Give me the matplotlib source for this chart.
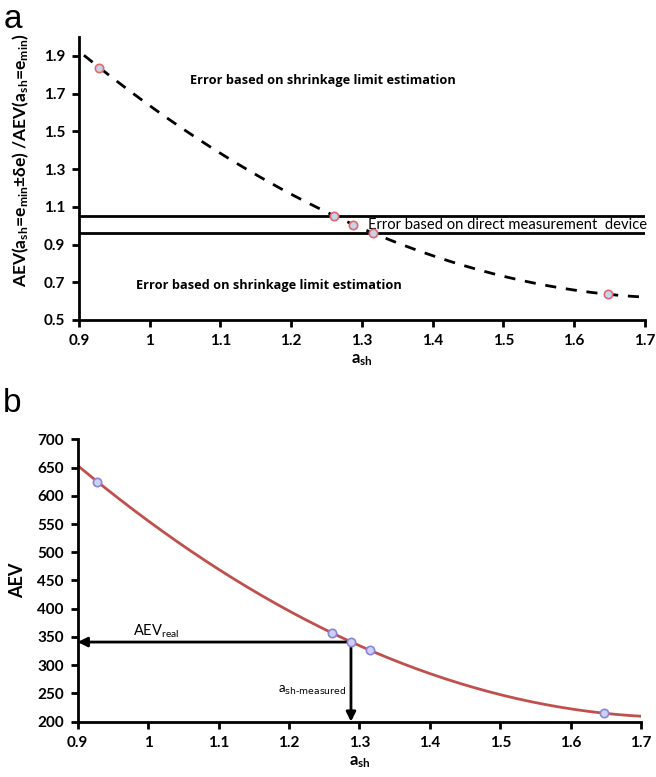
import matplotlib.pyplot as plt
import numpy as np

plt.rcParams['font.family'] = ['Lato', 'DejaVu Sans']
plt.rcParams['mathtext.default'] = 'regular'

# panel a: normalised AEV ratio
a_sh_ratio = [0.929, 1.261, 1.288, 1.315, 1.648]
ratio = [1.837, 1.052, 1.005, 0.962, 0.636]
band_upper = 1.052
band_lower = 0.962

# panel b: AEV vs a_sh
a_sh_aev = [0.928, 1.261, 1.288, 1.315, 1.647]
aev = [625, 357, 341, 327, 215]
a_measured = 1.288
aev_real = 341

xticks = [0.9, 1.0, 1.1, 1.2, 1.3, 1.4, 1.5, 1.6, 1.7]
xtick_labels = ['0.9', '1', '1.1', '1.2', '1.3', '1.4', '1.5', '1.6', '1.7']

fig = plt.figure(figsize=(6.56, 7.77), dpi=100)
ax1 = fig.add_axes([0.1204, 0.5882, 0.8628, 0.3642])
ax2 = fig.add_axes([0.1184, 0.0712, 0.8590, 0.3634])

def style(ax):
    for s in ['top', 'right']:
        ax.spines[s].set_visible(False)
    for s in ['left', 'bottom']:
        ax.spines[s].set_linewidth(2)
    ax.tick_params(width=2, length=5, labelsize=11, direction='out', pad=5)
    for lbl in ax.get_xticklabels() + ax.get_yticklabels():
        lbl.set_fontweight('bold')

# --- a ---
fit1 = np.polyfit(a_sh_ratio, ratio, 2)
xs1 = np.linspace(0.907, 1.7, 200)
ax1.plot(xs1, np.polyval(fit1, xs1), color='black', lw=2, ls=(0, (4, 3.5)))
ax1.axhline(band_upper, color='black', lw=2)
ax1.axhline(band_lower, color='black', lw=2)
ax1.plot(a_sh_ratio, ratio, 'o', ms=6, mfc='#c6d3ee', mec='#e06a6a', mew=1.2, zorder=5)
ax1.set_xlim(0.9, 1.7)
ax1.set_ylim(0.5, 2.0)
ax1.set_xticks(xticks)
ax1.set_xticklabels(xtick_labels)
ax1.set_yticks(np.round(np.arange(0.5, 1.91, 0.2), 1))
style(ax1)
ax1.set_xlabel(r'a$_{sh}$', fontsize=12, fontweight='bold', labelpad=3)
fig.text(21 / 656, 1 - 160 / 777,
         r'AEV(a$_{sh}$=e$_{min}$±δe) /AEV(a$_{sh}$=e$_{min}$)',
         fontsize=12.5, fontweight='bold', rotation=90, ha='center', va='center')
ax1.text(1.057, 1.751, 'Error based on shrinkage limit estimation',
         fontsize=9.2, fontweight='bold', family='Open Sans', va='baseline')
ax1.text(0.981, 0.665, 'Error based on shrinkage limit estimation',
         fontsize=9.2, fontweight='bold', family='Open Sans', va='baseline')
ax1.text(1.309, 0.984, 'Error based on direct measurement  device',
         fontsize=10.6, va='baseline')
fig.text(0.005, 0.995, 'a', fontsize=24, va='top', family='Liberation Sans')

# --- b ---
fit2 = np.polyfit(a_sh_aev, aev, 2)
xs2 = np.linspace(0.9, 1.7, 200)
ax2.plot(xs2, np.polyval(fit2, xs2), color='#c0504d', lw=2)
ax2.plot(a_sh_aev, aev, 'o', ms=6, mfc='#cdd0f2', mec='#8a85d6', mew=1.2, zorder=5)
ax2.annotate('', xy=(0.9, aev_real), xytext=(a_measured, aev_real),
             arrowprops=dict(arrowstyle='-|>', color='black', lw=2,
                             mutation_scale=14, shrinkA=0, shrinkB=0))
ax2.annotate('', xy=(a_measured, 200), xytext=(a_measured, aev_real),
             arrowprops=dict(arrowstyle='-|>', color='black', lw=2,
                             mutation_scale=14, shrinkA=0, shrinkB=0))
ax2.text(0.978, aev_real + 4, r'AEV$_{real}$', fontsize=10.5, va='bottom')
ax2.text(1.282, 256, r'a$_{\text{sh-measured}}$',
         fontsize=9.5, ha='right', va='center')
ax2.set_xlim(0.9, 1.7)
ax2.set_ylim(200, 700)
ax2.set_xticks(xticks)
ax2.set_xticklabels(xtick_labels)
ax2.set_yticks(np.arange(200, 701, 50))
style(ax2)
ax2.set_xlabel(r'a$_{sh}$', fontsize=12, fontweight='bold', labelpad=3)
ax2.set_ylabel('AEV', fontsize=13, fontweight='bold', labelpad=8)
fig.text(0.005, 0.5, 'b', fontsize=24, va='top', family='Liberation Sans')

fig.savefig('out.png', dpi=100)
